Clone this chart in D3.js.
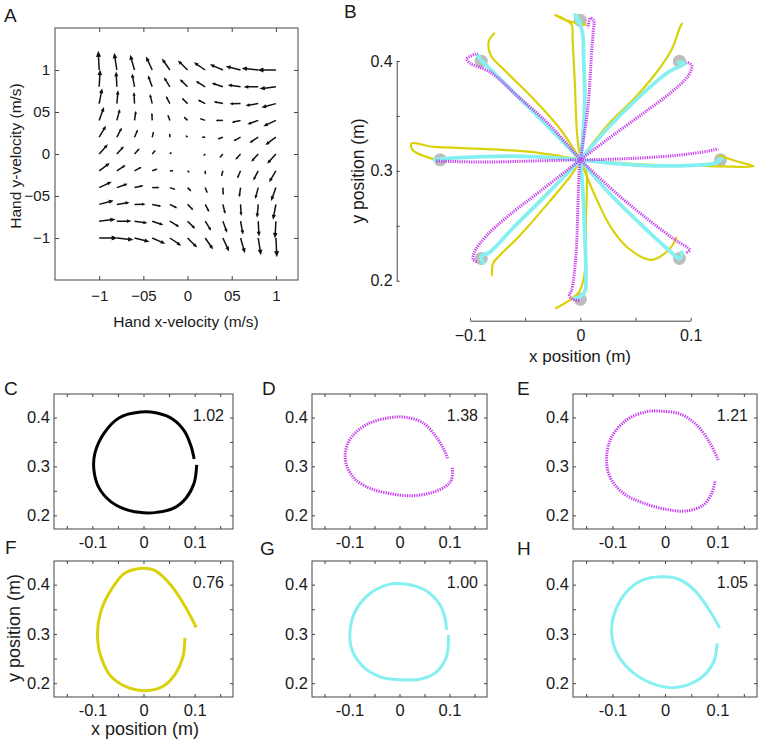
<!DOCTYPE html>
<html><head><meta charset="utf-8">
<script src="https://cdn.jsdelivr.net/npm/d3@7"></script>
<style>
body{margin:0;background:#fff}
text{font-family:"Liberation Sans",Arial,Helvetica,sans-serif;fill:#1a1a1a}
</style>
</head><body><script>
// ---------------- DATA ----------------
// Panel A: quiver grid (hand velocity, m/s) and force components
const quiverVx = [-1,-0.8,-0.6,-0.4,-0.2,0,0.2,0.4,0.6,0.8,1];
const quiverVy = [1,0.8,0.6,0.4,0.2,0,-0.2,-0.4,-0.6,-0.8,-1];
const quiverU = [
 [-1.1,-3.1,-5.1,-7.2,-9.2,-11.2,-13.2,-15.2,-17.3,-19.3,-21.3],
 [1.1,-0.9,-2.9,-4.9,-6.9,-9.0,-11.0,-13.0,-15.0,-17.0,-19.1],
 [3.4,1.4,-0.7,-2.7,-4.7,-6.7,-8.7,-10.8,-12.8,-14.8,-16.8],
 [5.6,3.6,1.6,-0.4,-2.5,-4.5,-6.5,-8.5,-10.5,-12.6,-14.6],
 [7.9,5.8,3.8,1.8,-0.2,-2.2,-4.3,-6.3,-8.3,-10.3,-12.3],
 [10.1,8.1,6.1,4.0,2.0,0,-2.0,-4.0,-6.1,-8.1,-10.1],
 [12.3,10.3,8.3,6.3,4.3,2.2,0.2,-1.8,-3.8,-5.8,-7.9],
 [14.6,12.6,10.5,8.5,6.5,4.5,2.5,0.4,-1.6,-3.6,-5.6],
 [16.8,14.8,12.8,10.8,8.7,6.7,4.7,2.7,0.7,-1.4,-3.4],
 [19.1,17.0,15.0,13.0,11.0,9.0,6.9,4.9,2.9,0.9,-1.1],
 [21.3,19.3,17.3,15.2,13.2,11.2,9.2,7.2,5.1,3.1,1.1]
];
const quiverV = [
 [22.3,20.1,17.8,15.6,13.3,11.1,8.9,6.6,4.4,2.1,-0.1],
 [20.1,17.8,15.6,13.4,11.1,8.9,6.6,4.4,2.2,-0.1,-2.3],
 [17.9,15.6,13.4,11.1,8.9,6.7,4.4,2.2,-0.1,-2.3,-4.5],
 [15.6,13.4,11.2,8.9,6.7,4.4,2.2,0.0,-2.3,-4.5,-6.8],
 [13.4,11.2,8.9,6.7,4.5,2.2,0.0,-2.3,-4.5,-6.7,-9.0],
 [11.2,9.0,6.7,4.5,2.2,0,-2.2,-4.5,-6.7,-9.0,-11.2],
 [9.0,6.7,4.5,2.3,0.0,-2.2,-4.5,-6.7,-8.9,-11.2,-13.4],
 [6.8,4.5,2.3,0.0,-2.2,-4.4,-6.7,-8.9,-11.2,-13.4,-15.6],
 [4.5,2.3,0.1,-2.2,-4.4,-6.7,-8.9,-11.1,-13.4,-15.6,-17.9],
 [2.3,0.1,-2.2,-4.4,-6.6,-8.9,-11.1,-13.4,-15.6,-17.8,-20.1],
 [0.1,-2.1,-4.4,-6.6,-8.9,-11.1,-13.3,-15.6,-17.8,-20.1,-22.3]
];
const quiverTicks = [-1,-0.5,0,0.5,1];
const quiverTickLabels = ["\u22121","\u221205","0","05","1"];

// Panel B: targets and reaches (x, y position in m)
const targets = [[0,0.437],[0.0898,0.3998],[0.127,0.31],[0.0898,0.2202],[0,0.183],[-0.0898,0.2202],[-0.127,0.31],[-0.0898,0.3998]];
const yellowReaches = [
 [[0,0.31],[-0.003,0.334],[-0.005,0.380],[-0.007,0.419],[-0.008,0.433],[-0.016,0.439],[-0.023,0.442],[-0.013,0.437],[0,0.434],[0.005,0.433]],
 [[0,0.31],[0.025,0.342],[0.049,0.366],[0.067,0.387],[0.083,0.411],[0.090,0.430],[0.092,0.434]],
 [[0,0.31],[0.054,0.306],[0.099,0.305],[0.129,0.304],[0.157,0.304],[0.144,0.308],[0.126,0.314]],
 [[0,0.31],[0.013,0.278],[0.028,0.248],[0.043,0.230],[0.064,0.219],[0.080,0.228],[0.087,0.239]],
 [[0,0.31],[0.005,0.301],[0.005,0.255],[0.004,0.208],[-0.001,0.190],[-0.010,0.182],[-0.022,0.175]],
 [[0,0.31],[-0.007,0.298],[-0.028,0.272],[-0.055,0.241],[-0.073,0.223],[-0.079,0.216],[-0.080,0.205]],
 [[0,0.31],[-0.043,0.317],[-0.088,0.320],[-0.134,0.322],[-0.153,0.325],[-0.152,0.319],[-0.131,0.310]],
 [[0,0.31],[-0.019,0.339],[-0.043,0.366],[-0.067,0.390],[-0.081,0.405],[-0.083,0.418],[-0.078,0.425]]
];
const magentaReaches = [
 [[0,0.31],[0.007,0.359],[0.010,0.405],[0.0115,0.425],[0.012,0.437],[0.009,0.439],[0.007,0.430]],
 [[0,0.31],[0.025,0.329],[0.055,0.351],[0.083,0.372],[0.098,0.387],[0.101,0.396],[0.096,0.399]],
 [[0,0.31],[0.040,0.311],[0.086,0.314],[0.116,0.318],[0.125,0.320]],
 [[0,0.31],[0.031,0.281],[0.061,0.256],[0.086,0.237],[0.099,0.228],[0.095,0.225]],
 [[0,0.31],[-0.001,0.302],[-0.004,0.223],[-0.008,0.191],[-0.010,0.187],[-0.007,0.183],[0,0.182]],
 [[0,0.31],[-0.037,0.281],[-0.064,0.260],[-0.085,0.241],[-0.096,0.226],[-0.097,0.219],[-0.093,0.217]],
 [[0,0.31],[-0.043,0.309],[-0.088,0.308],[-0.131,0.309]],
 [[0,0.31],[-0.028,0.342],[-0.058,0.369],[-0.082,0.390],[-0.100,0.398],[-0.103,0.402],[-0.093,0.407]]
];
const cyanReaches = [
 [[0,0.31],[0.002,0.328],[0.004,0.364],[0.003,0.401],[0.002,0.425],[-0.003,0.440],[-0.005,0.442],[-0.002,0.435]],
 [[0,0.31],[0.025,0.339],[0.055,0.369],[0.080,0.390],[0.095,0.398],[0.089,0.399]],
 [[0,0.31],[0.055,0.305],[0.101,0.305],[0.122,0.307],[0.128,0.311],[0.125,0.310]],
 [[0,0.31],[0.025,0.281],[0.055,0.251],[0.080,0.228],[0.090,0.220],[0.092,0.226]],
 [[0,0.31],[0.002,0.285],[0.004,0.243],[0.005,0.207],[0.004,0.190],[-0.001,0.185],[-0.005,0.184]],
 [[0,0.31],[-0.034,0.275],[-0.061,0.248],[-0.082,0.226],[-0.090,0.222],[-0.088,0.216]],
 [[0,0.31],[-0.043,0.313],[-0.088,0.313],[-0.125,0.311],[-0.132,0.310]],
 [[0,0.31],[-0.028,0.339],[-0.058,0.369],[-0.079,0.390],[-0.090,0.401],[-0.093,0.405]]
];

// Panels C-H: circle drawing trajectories (x, y in m) and ratios
const loopC = [[0.104,0.303],[0.099,0.266],[0.083,0.235],[0.058,0.214],[0.026,0.206],[0,0.205],[-0.032,0.211],[-0.064,0.228],[-0.087,0.256],[-0.097,0.293],[-0.095,0.327],[-0.077,0.368],[-0.048,0.399],[-0.006,0.411],[0.026,0.409],[0.058,0.396],[0.080,0.372],[0.093,0.341],[0.099,0.315]];
const loopD = [[0.106,0.297],[0.104,0.273],[0.092,0.259],[0.060,0.245],[0.021,0.240],[-0.017,0.244],[-0.056,0.254],[-0.088,0.273],[-0.105,0.300],[-0.108,0.331],[-0.095,0.361],[-0.063,0.387],[-0.017,0.400],[0.015,0.400],[0.047,0.389],[0.073,0.361],[0.089,0.334],[0.097,0.314]];
const loopE = [[0.095,0.269],[0.089,0.245],[0.073,0.221],[0.041,0.209],[0.003,0.212],[-0.041,0.225],[-0.079,0.245],[-0.105,0.279],[-0.111,0.320],[-0.101,0.361],[-0.073,0.395],[-0.035,0.412],[-0.010,0.413],[0.029,0.407],[0.060,0.385],[0.086,0.347],[0.101,0.313]];
const loopF = [[0.081,0.292],[0.077,0.253],[0.063,0.220],[0.040,0.195],[0.007,0.185],[-0.027,0.190],[-0.063,0.213],[-0.083,0.253],[-0.090,0.300],[-0.083,0.347],[-0.063,0.390],[-0.037,0.423],[-0.007,0.433],[0.020,0.430],[0.053,0.400],[0.083,0.353],[0.103,0.313]];
const loopG = [[0.098,0.298],[0.094,0.254],[0.074,0.223],[0.041,0.208],[0.001,0.207],[-0.039,0.213],[-0.076,0.237],[-0.096,0.271],[-0.099,0.305],[-0.089,0.345],[-0.059,0.382],[-0.019,0.401],[0.014,0.401],[0.051,0.389],[0.081,0.359],[0.091,0.332],[0.094,0.308]];
const loopH = [[0.099,0.281],[0.094,0.247],[0.078,0.220],[0.049,0.199],[0.014,0.191],[-0.021,0.198],[-0.059,0.220],[-0.088,0.254],[-0.101,0.295],[-0.097,0.339],[-0.075,0.383],[-0.043,0.409],[-0.008,0.416],[0.024,0.412],[0.055,0.390],[0.084,0.349],[0.104,0.312]];
const loopRatios = [1.02,1.38,1.21,0.76,1.00,1.05];
const loopXTicks = [-0.15,-0.1,-0.05,0,0.05,0.1,0.15];
const loopYTicks = [0.2,0.25,0.3,0.35,0.4];

// ---------------- DRAWING ----------------
const svg = d3.select("body").append("svg").attr("width",762).attr("height",745);
const AX = "#444";
const COL = {yellow:"#d9d20a", cyan:"#86f0f0", magenta:"#c83cf0", black:"#000"};

function letter(t,x,y){ svg.append("text").attr("x",x).attr("y",y).attr("font-size",19).text(t); }

// ---- Panel A ----
(function(){
  const x = d3.scaleLinear().domain([-1.5,1.25]).range([55,298]);
  const y = d3.scaleLinear().domain([-1.5,1.5]).range([280,28]);
  const g = svg.append("g");
  g.append("rect").attr("x",55).attr("y",28).attr("width",243).attr("height",252)
    .attr("fill","none").attr("stroke",AX).attr("stroke-width",1);
  const fmt = d => quiverTickLabels[quiverTicks.indexOf(d)];
  const styleAxis = s => { s.select(".domain").remove(); s.selectAll("line").attr("stroke",AX);
    s.selectAll("text").attr("font-size",15).attr("font-family","Liberation Sans, Arial, sans-serif").attr("fill","#1a1a1a"); };
  g.append("g").attr("transform","translate(0,280)")
    .call(d3.axisBottom(x).tickValues(quiverTicks).tickFormat(fmt).tickSizeInner(-4).tickSizeOuter(0).tickPadding(10)).call(styleAxis);
  g.append("g").attr("transform","translate(0,28)")
    .call(d3.axisTop(x).tickValues(quiverTicks).tickFormat("").tickSizeInner(-4).tickSizeOuter(0)).call(styleAxis);
  g.append("g").attr("transform","translate(55,0)")
    .call(d3.axisLeft(y).tickValues(quiverTicks).tickFormat(fmt).tickSizeInner(-4).tickSizeOuter(0).tickPadding(5)).call(styleAxis);
  g.append("g").attr("transform","translate(298,0)")
    .call(d3.axisRight(y).tickValues(quiverTicks).tickFormat("").tickSizeInner(-4).tickSizeOuter(0)).call(styleAxis);

  const k = 0.86;
  const ag = g.append("g");
  quiverVy.forEach((vy,i)=>quiverVx.forEach((vx,j)=>{
    const x0=x(vx), y0=y(vy);
    const dx=quiverU[i][j]*k, dy=-quiverV[i][j]*k;
    const len=Math.hypot(dx,dy);
    if(len<0.4) return;
    const x1=x0+dx, y1=y0+dy, ux=dx/len, uy=dy/len;
    const hl=Math.min(len*0.32,6), hw=hl*0.42;
    ag.append("line").attr("x1",x0).attr("y1",y0).attr("x2",x1-ux*hl*0.6).attr("y2",y1-uy*hl*0.6)
      .attr("stroke","#111").attr("stroke-width",1.5);
    const bx=x1-ux*hl, by=y1-uy*hl;
    ag.append("path").attr("d",`M${x1},${y1}L${bx-uy*hw},${by+ux*hw}L${bx+uy*hw},${by-ux*hw}Z`).attr("fill","#111");
  }));
  g.append("text").attr("x",186).attr("y",327).attr("text-anchor","middle").attr("font-size",15.5).text("Hand x-velocity (m/s)");
  g.append("text").attr("transform","translate(21,156) rotate(-90)").attr("text-anchor","middle").attr("font-size",15.5).text("Hand y-velocity (m/s)");
  letter("A",4,22);
})();

// ---- Panel B ----
(function(){
  const x = d3.scaleLinear().domain([-0.1,0.1]).range([470,690.7]);
  const y = d3.scaleLinear().domain([0.2,0.4]).range([280.7,61]);
  const g = svg.append("g");
  const lab = d => (d===0?"0":(Math.abs(Math.abs(d)-0.1)<1e-9?d3.format(".1f")(d):""));
  const styleAxis = s => { s.select(".domain").attr("stroke",AX); s.selectAll("line").attr("stroke",AX);
    s.selectAll("text").attr("font-size",16).attr("font-family","Liberation Sans, Arial, sans-serif").attr("fill","#1a1a1a"); };
  g.append("g").attr("transform","translate(0,320.7)")
    .call(d3.axisBottom(x).tickValues([-0.1,-0.05,0,0.05,0.1]).tickFormat(lab).tickSizeInner(-3).tickSizeOuter(0).tickPadding(9)).call(styleAxis);
  const ylab = d => ([0.2,0.3,0.4].some(v=>Math.abs(v-d)<1e-9)?d3.format(".1f")(d):"");
  g.append("g").attr("transform","translate(396.7,0)")
    .call(d3.axisLeft(y).tickValues([0.2,0.25,0.3,0.35,0.4]).tickFormat(ylab).tickSizeInner(-3).tickSizeOuter(0).tickPadding(4)).call(styleAxis);

  g.selectAll("circle.t").data(targets).join("circle").attr("class","t")
    .attr("cx",d=>x(d[0])).attr("cy",d=>y(d[1])).attr("r",6.5).attr("fill","#bdbdbd");
  const line = d3.line().x(d=>x(d[0])).y(d=>y(d[1])).curve(d3.curveCatmullRom.alpha(0.5));
  g.selectAll("path.yl").data(yellowReaches).join("path").attr("class","yl").attr("d",line)
    .attr("fill","none").attr("stroke",COL.yellow).attr("stroke-width",2.2).attr("stroke-linecap","round").attr("stroke-linejoin","round");
  g.selectAll("path.cy").data(cyanReaches).join("path").attr("class","cy").attr("d",line)
    .attr("fill","none").attr("stroke",COL.cyan).attr("stroke-width",3.8).attr("stroke-linecap","round").attr("stroke-linejoin","round");
  g.selectAll("path.mg").data(magentaReaches).join("path").attr("class","mg").attr("d",line)
    .attr("fill","none").attr("stroke",COL.magenta).attr("stroke-width",3).attr("stroke-dasharray","1.2,1.1");
  g.append("text").attr("x",580).attr("y",362).attr("text-anchor","middle").attr("font-size",17).text("x position (m)");
  g.append("text").attr("transform","translate(364,171) rotate(-90)").attr("text-anchor","middle").attr("font-size",17.5).text("y position (m)");
  letter("B",344,18);
})();

// ---- Panels C-H ----
const panels = [
  {L:"C", lx:4,   ly:395, fx:[54,233],  fy:[394,529], pts:loopC, r:loopRatios[0], col:COL.black,   dotted:false},
  {L:"D", lx:262, ly:395, fx:[312,487], fy:[394,529], pts:loopD, r:loopRatios[1], col:COL.magenta, dotted:true},
  {L:"E", lx:517, ly:395, fx:[573,757], fy:[394,529], pts:loopE, r:loopRatios[2], col:COL.magenta, dotted:true},
  {L:"F", lx:5,   ly:554, fx:[54,233],  fy:[561,697], pts:loopF, r:loopRatios[3], col:COL.yellow,  dotted:false},
  {L:"G", lx:260, ly:555, fx:[312,487], fy:[561,697], pts:loopG, r:loopRatios[4], col:COL.cyan,    dotted:false},
  {L:"H", lx:517, ly:555, fx:[573,757], fy:[561,697], pts:loopH, r:loopRatios[5], col:COL.cyan,    dotted:false}
];
panels.forEach(p=>{
  const x = d3.scaleLinear().domain([-0.175,0.175]).range(p.fx);
  const y = d3.scaleLinear().domain([0.172,0.448]).range([p.fy[1],p.fy[0]]);
  const g = svg.append("g");
  const styleAxis = s => { s.select(".domain").remove(); s.selectAll("line").attr("stroke",AX);
    s.selectAll("text").attr("font-size",16.5).attr("font-family","Liberation Sans, Arial, sans-serif").attr("fill","#1a1a1a"); };
  const xl = d => (Math.abs(d)<1e-9?"0":(Math.abs(Math.abs(d)-0.1)<1e-9?(d<0?"-0.1":"0.1"):""));
  const yl = d => ([0.2,0.3,0.4].some(v=>Math.abs(v-d)<1e-9)?d.toFixed(1):"");
  g.append("g").attr("transform",`translate(0,${p.fy[1]})`)
    .call(d3.axisBottom(x).tickValues(loopXTicks).tickFormat(xl).tickSizeInner(-3).tickSizeOuter(0).tickPadding(7)).call(styleAxis);
  g.append("g").attr("transform",`translate(0,${p.fy[0]})`)
    .call(d3.axisTop(x).tickValues(loopXTicks).tickFormat("").tickSizeInner(-3).tickSizeOuter(0)).call(styleAxis);
  g.append("g").attr("transform",`translate(${p.fx[0]},0)`)
    .call(d3.axisLeft(y).tickValues(loopYTicks).tickFormat(yl).tickSizeInner(-3).tickSizeOuter(0).tickPadding(4)).call(styleAxis);
  g.append("g").attr("transform",`translate(${p.fx[1]},0)`)
    .call(d3.axisRight(y).tickValues(loopYTicks).tickFormat("").tickSizeInner(-3).tickSizeOuter(0)).call(styleAxis);
  g.append("rect").attr("x",p.fx[0]).attr("y",p.fy[0]).attr("width",p.fx[1]-p.fx[0]).attr("height",p.fy[1]-p.fy[0])
    .attr("fill","none").attr("stroke",AX).attr("stroke-width",1);
  const line = d3.line().x(d=>x(d[0])).y(d=>y(d[1])).curve(d3.curveCatmullRom.alpha(0.5));
  const path = g.append("path").datum(p.pts).attr("d",line).attr("fill","none").attr("stroke",p.col)
    .attr("stroke-width",3);
  if(p.dotted) path.attr("stroke-dasharray","1.3,1.1");
  g.append("text").attr("x",p.fx[1]-9).attr("y",p.fy[0]+27).attr("text-anchor","end").attr("font-size",16).text(p.r.toFixed(2));
  letter(p.L,p.lx,p.ly);
});
svg.append("text").attr("x",145).attr("y",735).attr("text-anchor","middle").attr("font-size",18).text("x position (m)");
svg.append("text").attr("transform","translate(20,628) rotate(-90)").attr("text-anchor","middle").attr("font-size",18).text("y position (m)");
</script></body></html>
